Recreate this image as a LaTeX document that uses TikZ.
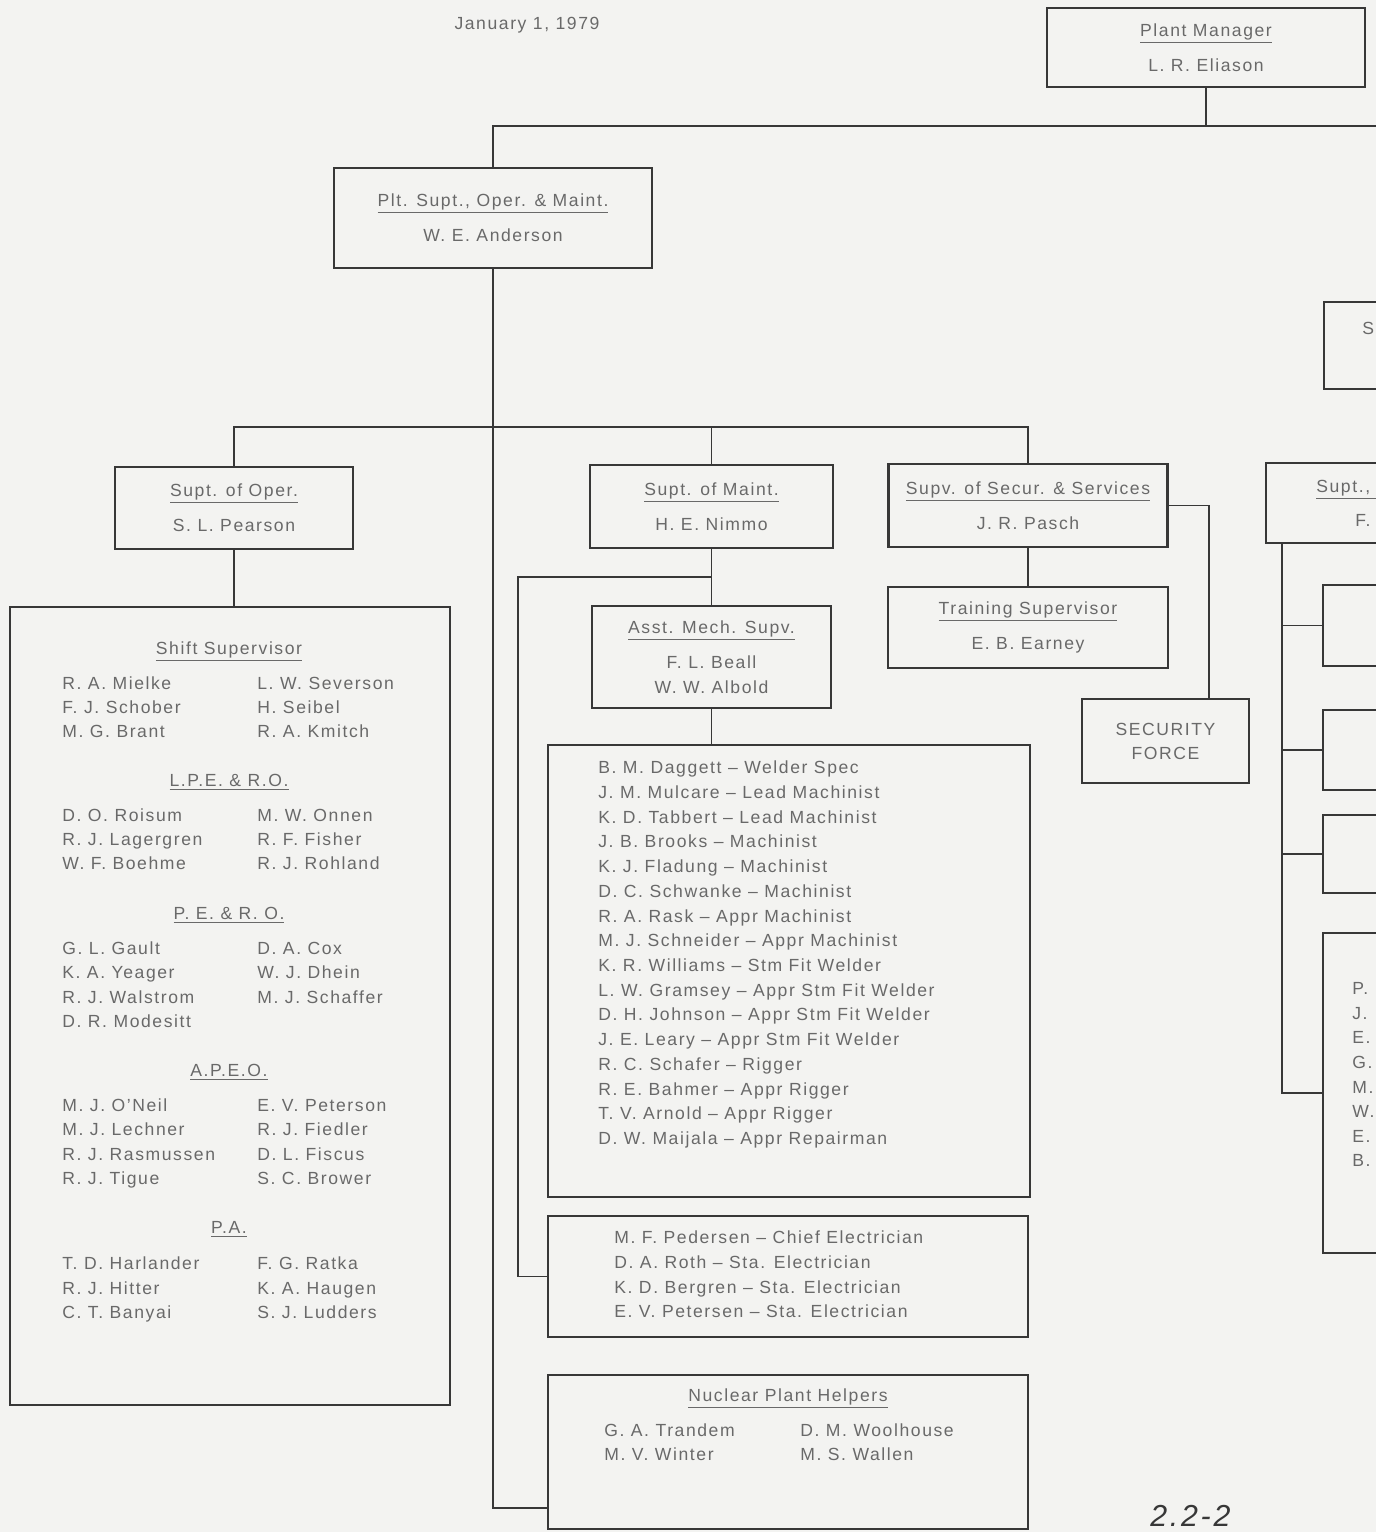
\documentclass[tikz,border=0pt]{standalone}
\usepackage{fontspec}
\setmainfont{Liberation Sans}[LetterSpace=9]
\definecolor{paper}{RGB}{243, 243, 241}
\definecolor{inkline}{RGB}{55, 55, 55}
\definecolor{inktext}{RGB}{105, 105, 105}
\usetikzlibrary{positioning, calc}

\begin{document}
\begin{tikzpicture}[x=0.02cm, y=-0.02cm,
  orgbox/.style 2 args={draw=inkline, line width=1.2pt, text=inktext, inner sep=0pt,
              align=center, minimum width=#1*0.02cm, minimum height=#2*0.02cm},
  lnk/.style={draw=inkline, line width=1pt},
  lst/.style={text=inktext, anchor=mid west, inner sep=0pt},
  hdr/.style={text=inktext, anchor=mid, inner sep=0pt},
]
\useasboundingbox (0,0) rectangle (1376,1532);
\clip (0,0) rectangle (1376,1532);
\fill[paper] (0,0) rectangle (1376,1532);

% Top of chart
\node[hdr] (date) at (527,25) {January 1, 1979};
\node[orgbox={318}{79}] (pm) at (1206,47.5) {\underline{Plant Manager}\\[8pt]L. R. Eliason};
\node[orgbox={318}{100}] (plt) at (493,218) {\underline{Plt. Supt., Oper. \& Maint.}\\[8pt]W. E. Anderson};

\coordinate (busend) at (1400,126);
\draw[lnk] (pm.south) -- (pm.south |- busend);
\draw[lnk] (plt.north) |- (busend);

% Second level
\node[orgbox={238}{82}] (oper) at (234,508) {\underline{Supt. of Oper.}\\[8pt]S. L. Pearson};
\node[orgbox={243}{83}] (maint) at (711.5,506.5) {\underline{Supt. of Maint.}\\[8pt]H. E. Nimmo};
\node[orgbox={279}{83}] (secur) at (1028,505.5) {\underline{Supv. of Secur. \& Services}\\[8pt]J. R. Pasch};

\draw[lnk] (oper.north) -- ++(0,-39) -| (secur.north);
\draw[lnk] (maint.north) -- ++(0,-37);

% Operations
\node[orgbox={440}{798}] (shift) at (230,1006) {};
\draw[lnk] (oper.south) -- (oper.south |- shift.north);

\node[hdr] (hss) at (229,650) {\underline{Shift Supervisor}};
\foreach \a/\b [count=\i] in {R. A. Mielke/L. W. Severson, F. J. Schober/H. Seibel, M. G. Brant/R. A. Kmitch}
  {\node[lst] (ssa\i) at (62,{685+24*(\i-1)}) {\a};
   \node[lst] (ssb\i) at (257,{685+24*(\i-1)}) {\b};}

\node[hdr] (hlpe) at (229,782) {\underline{L.P.E. \& R.O.}};
\foreach \a/\b [count=\i] in {D. O. Roisum/M. W. Onnen, R. J. Lagergren/R. F. Fisher, W. F. Boehme/R. J. Rohland}
  {\node[lst] (lpa\i) at (62,{817+24*(\i-1)}) {\a};
   \node[lst] (lpb\i) at (257,{817+24*(\i-1)}) {\b};}

\node[hdr] (hpe) at (229,915) {\underline{P. E. \& R. O.}};
\foreach \a/\b [count=\i] in {G. L. Gault/D. A. Cox, K. A. Yeager/W. J. Dhein, R. J. Walstrom/M. J. Schaffer}
  {\node[lst] (pea\i) at (62,{950+24.3*(\i-1)}) {\a};
   \node[lst] (peb\i) at (257,{950+24.3*(\i-1)}) {\b};}
\node[lst] (pea4) at (62,1023) {D. R. Modesitt};

\node[hdr] (hapeo) at (229,1072) {\underline{A.P.E.O.}};
\foreach \a/\b [count=\i] in {M. J. O'Neil/E. V. Peterson, M. J. Lechner/R. J. Fiedler, R. J. Rasmussen/D. L. Fiscus, R. J. Tigue/S. C. Brower}
  {\node[lst] (apa\i) at (62,{1107+24.3*(\i-1)}) {\a};
   \node[lst] (apb\i) at (257,{1107+24.3*(\i-1)}) {\b};}

\node[hdr] (hpa) at (229,1229) {\underline{P.A.}};
\foreach \a/\b [count=\i] in {T. D. Harlander/F. G. Ratka, R. J. Hitter/K. A. Haugen, C. T. Banyai/S. J. Ludders}
  {\node[lst] (paa\i) at (62,{1265+24.5*(\i-1)}) {\a};
   \node[lst] (pab\i) at (257,{1265+24.5*(\i-1)}) {\b};}

% Maintenance
\node[orgbox={239}{102}] (asst) at (711.5,657) {\underline{Asst. Mech. Supv.}\\[8pt]F. L. Beall\\[2pt]W. W. Albold};
\node[orgbox={482}{452}] (mach) at (789,971) {};
\node[orgbox={480}{121}] (elec) at (788,1276.5) {};
\node[orgbox={480}{154}] (help) at (788,1452) {};

\draw[lnk] (maint.south) -- (asst.north);
\draw[lnk] ($(maint.south)!0.5!(asst.north)$) -| ([xshift=-0.58cm]elec.west) -- (elec.west);
\draw[lnk] (asst.south) -- (asst.south |- mach.north);
\draw[lnk] (plt.south) |- ([yshift=0.44cm]help.south west);

\foreach \nm [count=\i] in {B. M. Daggett -- Welder Spec, J. M. Mulcare -- Lead Machinist,
    K. D. Tabbert -- Lead Machinist, J. B. Brooks -- Machinist, K. J. Fladung -- Machinist,
    D. C. Schwanke -- Machinist, R. A. Rask -- Appr Machinist, M. J. Schneider -- Appr Machinist,
    K. R. Williams -- Stm Fit Welder, L. W. Gramsey -- Appr Stm Fit Welder,
    D. H. Johnson -- Appr Stm Fit Welder, J. E. Leary -- Appr Stm Fit Welder,
    R. C. Schafer -- Rigger, R. E. Bahmer -- Appr Rigger, T. V. Arnold -- Appr Rigger,
    D. W. Maijala -- Appr Repairman}
  \node[lst] (mch\i) at (598,{769+24.73*(\i-1)}) {\nm};

\foreach \nm [count=\i] in {M. F. Pedersen -- Chief Electrician, D. A. Roth -- Sta. Electrician,
    K. D. Bergren -- Sta. Electrician, E. V. Petersen -- Sta. Electrician}
  \node[lst] (elc\i) at (614,{1239+24.7*(\i-1)}) {\nm};

\node[hdr] (hnph) at (788,1397) {\underline{Nuclear Plant Helpers}};
\foreach \a/\b [count=\i] in {G. A. Trandem/D. M. Woolhouse, M. V. Winter/M. S. Wallen}
  {\node[lst] (nha\i) at (604,{1432+24*(\i-1)}) {\a};
   \node[lst] (nhb\i) at (800,{1432+24*(\i-1)}) {\b};}

% Security and services
\node[orgbox={280}{81}] (train) at (1028,627.5) {\underline{Training Supervisor}\\[8pt]E. B. Earney};
\node[orgbox={167}{84}] (force) at (1165.5,741) {SECURITY\\[1.6pt]FORCE};
\draw[lnk] (secur.south) -- (train.north);
\draw[lnk] (secur.east) -| ([xshift=0.87cm]force.north);

% Right side, cut off at the page edge
\node[orgbox={176}{87}] (rtop) at (1412,345.5) {};
\node[lst] (rtoptxt) at (1362,330) {S};
\node[orgbox={234}{80}] (rsupt) at (1383,503) {};
\node[lst] (rsupttl) at (1316,488) {\underline{Supt.,\hspace{3em}}};
\node[lst] (rsuptnm) at (1355,522) {F.};
\node[orgbox={177}{81}] (r2) at (1411.5,625.5) {};
\node[orgbox={177}{80}] (r3) at (1411.5,750) {};
\node[orgbox={177}{78}] (r4) at (1411.5,854) {};
\node[orgbox={177}{320}] (r5) at (1411.5,1093) {};
\draw[lnk] ([xshift=0.34cm]rsupt.south west) |- (r5.west);
\foreach \b in {r2,r3,r4}
  \draw[lnk] (\b.west) -- ++(-40,0);
\foreach \nm [count=\i] in {P., J., E., G., M., W., E., B.}
  \node[lst] (rl\i) at (1352,{990+24.6*(\i-1)}) {\nm};

% Page mark
\node[text=inkline, anchor=base west, inner sep=0pt, font=\LARGE\itshape] (pgno) at (1150,1526) {2.2-2};
\end{tikzpicture}
\end{document}
